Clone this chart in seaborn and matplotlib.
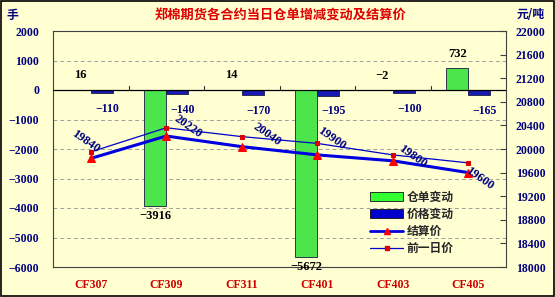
import numpy as np
import pandas as pd
import matplotlib
matplotlib.use("Agg")
import matplotlib.pyplot as plt
import seaborn as sns
from matplotlib.patches import Rectangle, Patch
from matplotlib.lines import Line2D

# ---- data ----
contracts = ["CF307", "CF309", "CF311", "CF401", "CF403", "CF405"]
receipt_change = [16, -3916, 14, -5672, -2, 732]        # 仓单变动
price_change = [-110, -140, -170, -195, -100, -165]      # 价格变动
settle_price = [19840, 20220, 20040, 19900, 19800, 19600]  # 结算价
prev_price = [19950, 20360, 20210, 20095, 19900, 19765]    # 前一日价
left_ticks = [-6000, -5000, -4000, -3000, -2000, -1000, 0, 1000, 2000]
right_ticks = [18000, 18400, 18800, 19200, 19600, 20000, 20400, 20800, 21200, 21600, 22000]

sns.set_theme(style="white")
plt.rcParams['font.family'] = ['Liberation Serif', 'Noto Sans CJK SC', 'DejaVu Sans']

BG = "#FFFFD2"
NAVY = "#000080"

fig = plt.figure(figsize=(5.55, 2.97), dpi=100, facecolor=BG)
ax = fig.add_axes([53/555, 1-267/297, (506-53)/555, (267-31)/297])
ax.set_facecolor(BG)

df = pd.DataFrame({
    "contract": contracts * 2,
    "value": receipt_change + price_change,
    "series": ["仓单变动"] * 6 + ["价格变动"] * 6,
})
sns.barplot(data=df, x="contract", y="value", hue="series", order=contracts,
            hue_order=["仓单变动", "价格变动"],
            palette={"仓单变动": "#33FF33", "价格变动": "#0000CC"},
            width=0.58, dodge=True, ax=ax, edgecolor="#1a1a40", linewidth=0.6,
            legend=False, errorbar=None)

ax.set_xlim(-0.5, 5.5)
ax.set_ylim(-6000, 2000)
ax.set_yticks(left_ticks)
ax.set_yticklabels([str(t).replace("-", "−") for t in left_ticks],
                   fontsize=8.5, fontweight="bold", color=NAVY)
ax.set_xticks(range(6))
ax.set_xticklabels(contracts, fontsize=8.5, fontweight="bold", color="#CC0000")
ax.tick_params(axis="x", length=0, pad=9)
ax.tick_params(axis="y", length=0, pad=10)
ax.set_xlabel("")
ax.set_ylabel("")
for t in left_ticks:
    if t not in (-6000, 0, 2000):
        ax.axhline(t, color="#A0A0A0", lw=0.7, ls=(0, (4, 3)), zorder=0)
for s in ax.spines.values():
    s.set_color("#404040")
    s.set_linewidth(0.8)

# zero line (category axis) with small boundary ticks above it
ax.axhline(0, color="black", lw=0.9, zorder=3)
zero_frac = (0 - (-6000)) / (2000 - (-6000))
for b in np.arange(len(contracts) - 1) + 0.5:
    ax.axvline(b, ymin=zero_frac, ymax=zero_frac + 0.018, color="#303030", lw=0.8, zorder=3)

# bar labels
bw = 0.29
for i, v in enumerate(receipt_change):
    x = i - bw / 2
    if v >= 0 or abs(v) < 50:
        ax.annotate(str(v).replace("-", "−"), (x, max(v, 0)), xytext=(0, 6), textcoords="offset points",
                    ha="center", va="bottom", fontsize=9, fontweight="bold", color="black")
    else:
        ax.annotate(str(v).replace("-", "−"), (x, v), xytext=(0, -3), textcoords="offset points",
                    ha="center", va="top", fontsize=9, fontweight="bold", color="black")
for i, v in enumerate(price_change):
    x = i + bw / 2
    ax.annotate(str(v).replace("-", "−"), (x, v), xytext=(4, -7), textcoords="offset points",
                ha="center", va="top", fontsize=8.5, fontweight="bold", color=NAVY)

# right axis with prices
ax2 = ax.twinx()
xs = np.arange(len(contracts))
ldf = pd.DataFrame({"x": xs, "settle": settle_price, "prev": prev_price})
sns.lineplot(data=ldf, x="x", y="prev", ax=ax2, color="#0000CC", lw=0.9,
             marker="s", markersize=3, markerfacecolor="#DD0000", markeredgecolor="#DD0000")
sns.lineplot(data=ldf, x="x", y="settle", ax=ax2, color="#0000E0", lw=2.2,
             marker="^", markersize=6, markerfacecolor="#FF0000", markeredgecolor="#FF0000")
ax2.set_ylim(18000, 22000)
ax2.set_xlim(-0.5, 5.5)
ax2.set_yticks(right_ticks)
ax2.set_yticklabels([str(t) for t in right_ticks], fontsize=8.5, fontweight="bold", color=NAVY)
ax2.tick_params(axis="y", direction="in", length=4, width=0.8, color="#404040", pad=7)
ax2.set_xlabel("")
ax2.set_ylabel("")
for s in ax2.spines.values():
    s.set_visible(False)

offsets = [(-4, 12), (16, 7), (18, 9), (10, 12), (14, 3), (8, -4)]
for i, v in enumerate(settle_price):
    dx, dy = offsets[i]
    ax2.annotate(str(v), (i, v), xytext=(dx, dy), textcoords="offset points",
                 ha="center", va="center", rotation=-35, fontsize=9, fontweight="bold", color=NAVY)

# legend
handles = [
    Patch(facecolor="#33FF33", edgecolor="#111111", lw=0.6, label="仓单变动"),
    Patch(facecolor="#0000CC", edgecolor="#111111", lw=0.6, label="价格变动"),
    Line2D([], [], color="#0000E0", lw=2, marker="^", markersize=5,
           markerfacecolor="#FF0000", markeredgecolor="#FF0000", label="结算价"),
    Line2D([], [], color="#0000CC", lw=0.9, marker="s", markersize=2.5,
           markerfacecolor="#DD0000", markeredgecolor="#DD0000", label="前一日价"),
]
leg = ax2.legend(handles=handles, loc="lower left", bbox_to_anchor=(0.69, 0.03),
                 frameon=False, handlelength=2.8, handleheight=0.8,
                 labelspacing=0.35, borderaxespad=0, handletextpad=0.3,
                 prop={"family": ["Noto Sans CJK SC"], "weight": "bold", "size": 8.5})

# titles and unit labels
fig.text(0.505, 1 - 16/297, "郑棉期货各合约当日仓单增减变动及结算价", ha="center", va="center",
         fontsize=9.5, fontweight="bold", color="#DD0000", family=["Noto Sans CJK SC"])
fig.text(12/555, 1 - 15/297, "手", ha="center", va="center", fontsize=8.5,
         fontweight="bold", color=NAVY, family=["Noto Sans CJK SC"])
fig.text(531/555, 1 - 15/297, "元/吨", ha="center", va="center", fontsize=8.5,
         fontweight="bold", color=NAVY, family=["Noto Sans CJK SC"])

# figure border
fig.patches.append(Rectangle((0.001, 0.002), 0.997, 0.995, transform=fig.transFigure,
                             fill=False, edgecolor="black", lw=1.2))

fig.savefig("out.png", dpi=100, facecolor=BG)
